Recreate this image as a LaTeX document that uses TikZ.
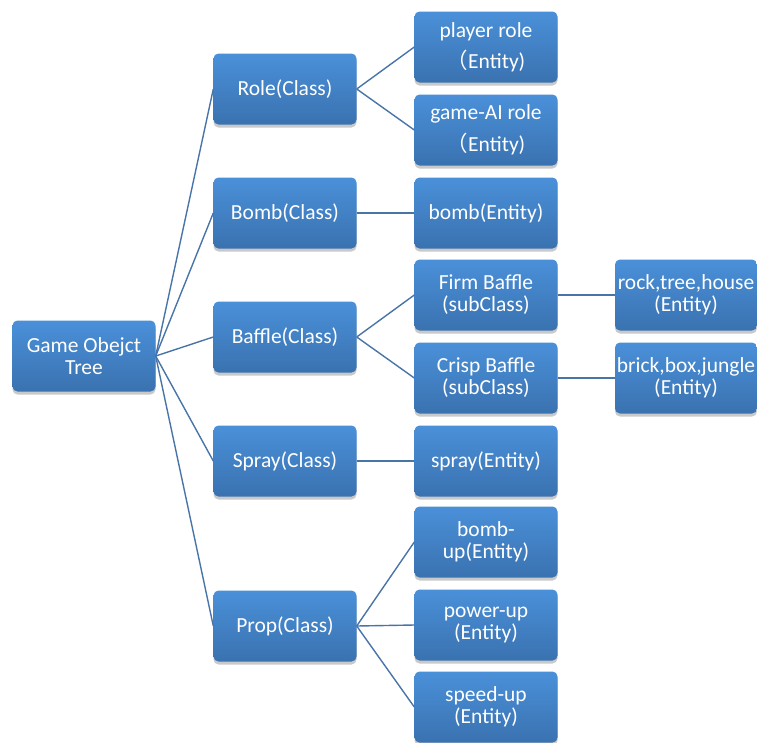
\documentclass[tikz,border=0pt]{standalone}
\usepackage{fontspec}
\setmainfont{Carlito}
\newfontfamily\cjk{Noto Sans CJK SC}
\usetikzlibrary{shadows}
\definecolor{boxtop}{RGB}{74,144,217}
\definecolor{boxbot}{RGB}{58,114,176}
\definecolor{linkblue}{RGB}{72,116,168}

\begin{document}
\begin{tikzpicture}[x=1pt,y=-1pt,
		box/.style={rectangle, rounded corners=5pt, minimum width=143pt, minimum height=71pt, inner sep=0pt, align=center, text=white, top color=boxtop, bottom color=boxbot, drop shadow={shadow xshift=0pt, shadow yshift=-3pt, opacity=0.3, fill=black!70}, font=\fontsize{21.5}{22}\selectfont},
		link/.style={draw=linkblue, line width=1.4pt}]
				\useasboundingbox (0,0) rectangle (757,742);
				
				% root and classes
				\node[box] (root) at (84,356) {Game Obejct\\Tree};
				\node[box] (role) at (285,89) {Role(Class)};
				\node[box] (bomb) at (285,213) {Bomb(Class)};
				\node[box] (baffle) at (285,337) {Baffle(Class)};
				\node[box] (spray) at (285,461) {Spray(Class)};
				\node[box] (prop) at (285,626) {Prop(Class)};
				
				% entities and subclasses
				\node[box] (player) at (486,47) {player role\\[9pt]{\cjk （}Entity)};
				\node[box] (ai) at (486,130) {game-AI role\\[9pt]{\cjk （}Entity)};
				\node[box] (bombent) at (486,213) {bomb(Entity)};
				\node[box] (firm) at (486,295) {Firm Baffle\\(subClass)};
				\node[box] (crisp) at (486,378) {Crisp Baffle\\(subClass)};
				\node[box] (sprayent) at (486,461) {spray(Entity)};
				\node[box] (bombup) at (486,542) {bomb-\\up(Entity)};
				\node[box] (power) at (486,625) {power-up\\(Entity)};
				\node[box] (speed) at (486,707) {speed-up\\(Entity)};
				
				\node[box, minimum width=142pt] (rock) at (686,295) {rock,tree,house\\(Entity)};
				\node[box, minimum width=142pt] (brick) at (686,378) {brick,box,jungle\\(Entity)};
				
				\foreach \c in {role,bomb,baffle,spray,prop}
					\draw[link] (root.east) -- (\c.west);
				\foreach \a/\b in {role/player, role/ai, bomb/bombent, baffle/firm, baffle/crisp, spray/sprayent, prop/bombup, prop/power, prop/speed, firm/rock, crisp/brick}
					\draw[link] (\a.east) -- (\b.west);
			\end{tikzpicture}
\end{document}
